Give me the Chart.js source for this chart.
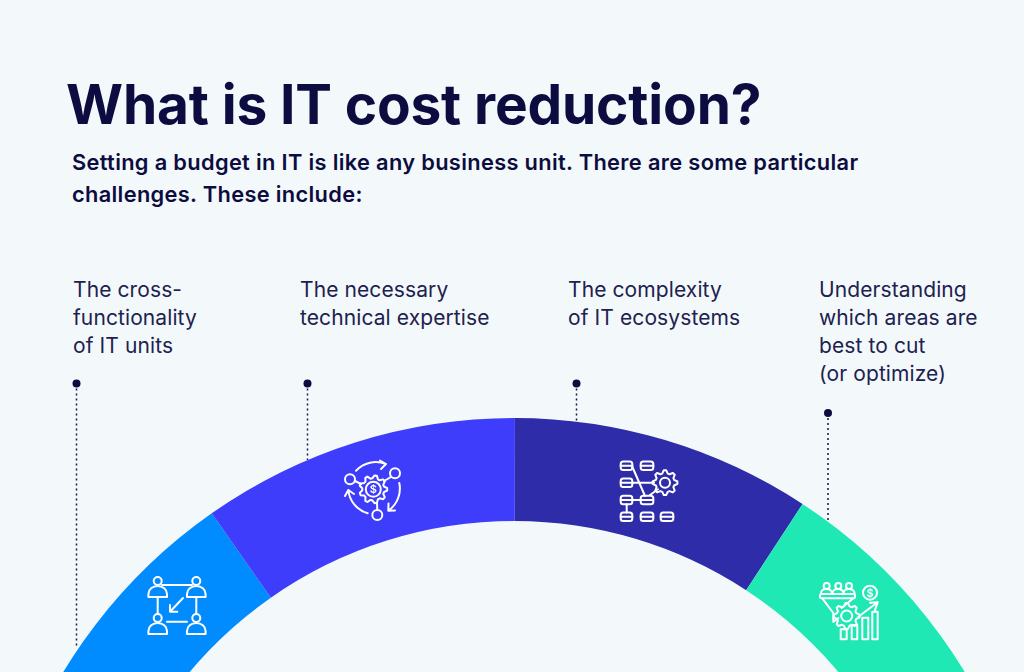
<!DOCTYPE html>
<html>
<head>
<meta charset="utf-8">
<title>What is IT cost reduction?</title>
<script src="https://cdn.jsdelivr.net/npm/chart.js@4"></script>
<style>
  html, body { margin: 0; padding: 0; width: 1024px; height: 672px; overflow: hidden; background: #f3f9fb; }
  body { position: relative; font-family: Inter, sans-serif; color: #0d0c40; }
  canvas, svg.icons { position: absolute; }
  .t { position: absolute; white-space: pre; }
  #title { left: 66px; top: 70px; font-size: 55px; line-height: 68px; font-weight: 700; letter-spacing: -0.15px; }
  #subtitle { left: 72px; top: 147px; font-size: 21.8px; line-height: 31.5px; font-weight: 600; letter-spacing: 0.34px; }
  .lab { top: 276px; font-size: 21px; line-height: 28px; font-weight: 400; letter-spacing: 0.1px; color: #21214f; }
  svg.icons { left: 0; top: 0; }
  svg.icons * { fill: none; stroke: #fff; stroke-width: 2; stroke-linecap: round; stroke-linejoin: round; }
  svg.icons text { fill: #fff; stroke: none; font: 600 11px Inter, sans-serif; text-anchor: middle; }
</style>
</head>
<body>
<div class="t" id="title">What is IT cost reduction?</div>
<div class="t" id="subtitle">Setting a budget in IT is like any business unit. There are some particular
challenges. These include:</div>
<div class="t lab" style="left:73px">The cross-
functionality
of IT units</div>
<div class="t lab" style="left:300px">The necessary
technical expertise</div>
<div class="t lab" style="left:568px">The complexity
of IT ecosystems</div>
<div class="t lab" style="left:819px">Understanding
which areas are
best to cut
(or optimize)</div>

<canvas id="leaders" style="left:0;top:0"></canvas>
<canvas id="arc" style="left:-13px;top:418px"></canvas>
<svg class="icons" id="icons" width="1024" height="672"></svg>

<script>
// angular size of each slice in degrees, last one is the unseen rest of the ring
var sliceLabels = ["Cross-functionality", "Technical expertise", "IT ecosystems", "Areas to cut", "rest"];
var sliceDegrees = [35, 35.1, 33.1, 36.8, 220];
var sliceColors = ["#008cff", "#3e3dfb", "#2e2ca8", "#1fe8b5", "rgba(0,0,0,0)"];

// leader lines: x, top of line (dot), bottom of line
var leaderX = [76.5, 307.5, 576.5, 828];
var leaderTop = [383.5, 383.5, 383.5, 413];
var leaderBottom = [648, 460, 424, 526];

new Chart(document.getElementById("arc"), {
	type: "doughnut",
	data: {
		labels: sliceLabels,
		datasets: [{ data: sliceDegrees, backgroundColor: sliceColors, borderWidth: 0, hoverOffset: 0 }]
	},
	options: {
		responsive: false,
		animation: false,
		rotation: -70,
		cutout: "80.45%",
		plugins: { legend: { display: false }, tooltip: { enabled: false } }
	},
	plugins: [{
		id: "size",
		beforeInit: function (chart) { chart.resize(1054, 1054); }
	}]
});

var leaderSets = leaderX.map(function (x, i) {
	return {
		data: [{ x: x, y: leaderTop[i] }, { x: x, y: leaderBottom[i] }],
		showLine: true,
		borderColor: "#15154a",
		borderWidth: 1.5,
		borderDash: [2, 3],
		pointRadius: [4, 0],
		pointBackgroundColor: "#0d0c40",
		pointBorderWidth: 0
	};
});

var leaderCanvas = document.getElementById("leaders");
leaderCanvas.width = 1024;
leaderCanvas.height = 672;
new Chart(leaderCanvas, {
	type: "scatter",
	data: { datasets: leaderSets },
	options: {
		responsive: false,
		animation: false,
		layout: { padding: 0, autoPadding: false },
		scales: {
			x: { type: "linear", min: 0, max: 1024, display: false },
			y: { type: "linear", min: 0, max: 672, reverse: true, display: false }
		},
		plugins: { legend: { display: false }, tooltip: { enabled: false } }
	}
});

// white line icons on top of the ring
function gear(cx, cy, ro, ri, teeth) {
	var p = "";
	var n = teeth * 4;
	for (var i = 0; i < n; i++) {
		var a = (i - 0.5) / n * Math.PI * 2;
		var r = (i % 4 < 2) ? ro : ri;
		p += (i ? "L" : "M") + (cx + r * Math.cos(a)).toFixed(1) + " " + (cy + r * Math.sin(a)).toFixed(1);
	}
	return '<path d="' + p + 'Z"/>';
}
function circle(x, y, r) { return '<circle cx="' + x + '" cy="' + y + '" r="' + r + '"/>'; }
function line(d) { return '<path d="' + d + '"/>'; }
function person(x, y) {
	return circle(x, y, 4) + line("M" + (x - 9.3) + " " + (y + 16) + "v-3a9.3 8 0 0 1 18.6 0v3z");
}
function pill(x, y, w) {
	return '<rect x="' + x + '" y="' + (y - 4.3) + '" width="' + w + '" height="8.6" rx="2.5"/>' +
		line("M" + x + " " + y + "h" + w);
}
var icons = "";
// four people
icons += person(157.7, 581) + person(196.3, 581) + person(157.7, 618) + person(196.3, 618);
icons += line("M162 585H192M157.7 597V614M196.3 597V614M167 621.7H187");
icons += line("M183 598L170 611.7M170 605V611.7H177.3");
// gear with circling arrows
icons += gear(373.3, 489.3, 14, 11, 9) + circle(373.3, 489.3, 7.5);
icons += '<text x="373.3" y="493.3">$</text>';
icons += circle(350, 479.3, 5) + circle(395, 473.3, 5) + circle(377.3, 515, 5);
icons += line("M355 481L361 484M391 477L384 481M377.3 510L377 503");
icons += line("M356 470.7A27 27 0 0 1 386 464M380 460.5L386 464L381 469");
icons += line("M399.3 483A27 27 0 0 1 388.3 510.7M388.5 503.5L388.3 510.7L395 510.5");
icons += line("M367.7 513.3A27 27 0 0 1 348.3 490M345 496L348.3 490L354 494");
// tree of boxes and gear
icons += pill(620.7, 465.7, 11.6) + pill(640.7, 465.7, 12.6) + pill(620.7, 482.7, 11.6);
icons += pill(620.7, 500, 11.6) + pill(640.7, 500, 12.6);
icons += pill(620.7, 516.7, 11.6) + pill(640.7, 516.7, 12.6) + pill(660.7, 516.7, 12.6);
icons += gear(665, 482.7, 12.5, 9.5, 8) + circle(665, 482.7, 5);
icons += line("M632.3 482.7H654M632 466L645 496M632.3 500H640.7M650 495L658 489.3M626.7 504.3V512.4");
// funnel, bars and dollar
icons += circle(826.7, 586, 3) + circle(838.3, 586, 3) + circle(849, 586, 3);
icons += line("M821 594v-1a5.5 4 0 0 1 11 0v1M832.5 594v-1a5.5 4 0 0 1 11 0v1M843.5 594v-1a5.5 4 0 0 1 11 0v1");
icons += '<rect x="820" y="594" width="35" height="4.3" rx="1.5"/>';
icons += line("M822.3 598.3L833.3 613V622L838.5 618M853.3 598.3L841.7 608");
icons += gear(846.7, 616, 13, 10, 8) + circle(846.7, 616, 5.5);
icons += '<rect x="840.7" y="629.3" width="6" height="10"/><rect x="851.7" y="625" width="5.6" height="14.3"/>';
icons += '<rect x="862.3" y="617.7" width="6" height="21.6"/><rect x="872.3" y="611.7" width="5.4" height="27.6"/>';
icons += line("M858.3 616.7L877.7 602.3M870 602.7L877.7 602.3L875 610");
icons += circle(870, 592.7, 7) + '<text x="870" y="596.7">$</text>';
document.getElementById("icons").innerHTML = icons;
</script>
</body>
</html>
